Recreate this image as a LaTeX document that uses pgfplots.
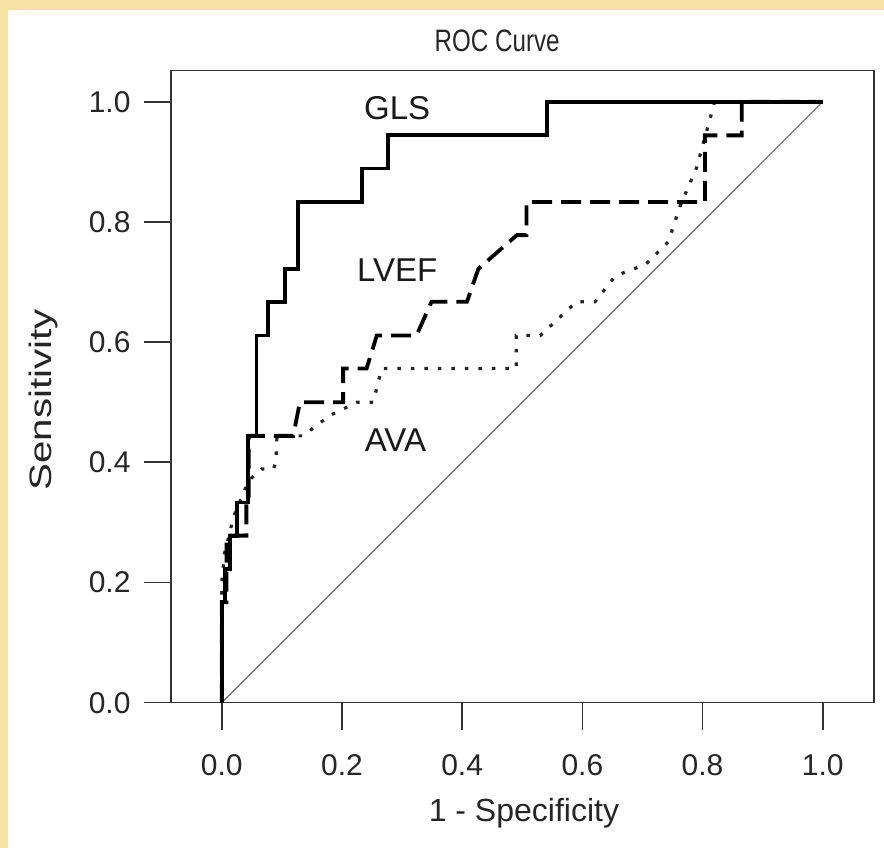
\documentclass[border=0pt]{standalone}
\usepackage{fontspec}
\setmainfont{Liberation Sans}
\newfontfamily\narrowfont[FakeStretch=0.78]{Liberation Sans}
\newfontfamily\widefont[FakeStretch=1.3]{Liberation Sans}
\usepackage{pgfplots}
\pgfplotsset{compat=1.18}
\definecolor{bgyellow}{RGB}{246,226,162}
\definecolor{diag}{RGB}{120,120,120}
\begin{document}
\begin{tikzpicture}[x=1pt,y=1pt]
\fill[bgyellow] (0,0) rectangle (884,848);
\fill[white] (8,0) rectangle (884,838);
\path[use as bounding box] (0,0) rectangle (884,848);
\begin{axis}[
  at={(171pt,145.3pt)}, anchor=south west,
  scale only axis, width=703pt, height=632pt,
  xmin=-0.0844, xmax=1.0852, ymin=0, ymax=1.0516,
  axis line style={draw=black!80, line width=1.6pt},
  xtick={0,0.2,0.4,0.6,0.8,1}, xticklabels={0.0,0.2,0.4,0.6,0.8,1.0},
  ytick={0,0.2,0.4,0.6,0.8,1}, yticklabels={0.0,0.2,0.4,0.6,0.8,1.0},
  xtick pos=bottom, ytick pos=left,
  tick align=outside, major tick length=27pt,
  tick style={draw=black!80, line width=1.6pt},
  /pgf/number format/assume math mode=true,
  ticklabel style={font=\fontsize{30}{33}\selectfont, text=black!85},
  xticklabel style={yshift=-21pt},
  yticklabel style={xshift=-10pt},
  xlabel={1 - Specificity},
  ylabel={Sensitivity},
  xlabel style={font=\fontsize{32}{35}\selectfont, text=black!85, at={(axis description cs:0.502,0)}, anchor=center, yshift=-111pt},
  ylabel style={font=\widefont\fontsize{31}{34}\selectfont, text=black!85, at={(axis description cs:-0.181,0.479)}, anchor=center},
  title={ROC Curve},
  title style={font=\narrowfont\fontsize{31}{34}\selectfont, text=black!85, at={(axis description cs:0.464,1)}, anchor=center, yshift=24pt},
  clip=false,
]
\addplot[diag, line width=1.4pt] coordinates {(0,0) (1,1)};
% AVA (dotted)
\addplot[black!85, line width=3.2pt, dash pattern=on 3.5pt off 10pt] coordinates {
(0,0) (0,0.2) (0.005,0.25) (0.02,0.31) (0.045,0.37) (0.067,0.389) (0.086,0.389)
(0.09,0.4) (0.092,0.444) (0.135,0.444) (0.18,0.478) (0.225,0.5) (0.252,0.5)
(0.266,0.556) (0.49,0.556) (0.49,0.611) (0.53,0.611) (0.59,0.667) (0.621,0.667)
(0.654,0.709) (0.679,0.72) (0.704,0.728) (0.743,0.767) (0.762,0.825) (0.79,0.89)
(0.815,0.981) (0.82,1) (1,1)};
% LVEF (dashed)
\addplot[black, line width=3.8pt, dash pattern=on 20pt off 9pt] coordinates {
(0,0) (0,0.167) (0.008,0.167) (0.008,0.278) (0.041,0.278) (0.041,0.333)
(0.045,0.333) (0.045,0.444) (0.119,0.444) (0.13,0.5) (0.202,0.5) (0.202,0.556)
(0.241,0.556) (0.258,0.611) (0.324,0.611) (0.349,0.667) (0.408,0.667)
(0.427,0.722) (0.491,0.778) (0.507,0.778) (0.507,0.833) (0.804,0.833)
(0.804,0.944) (0.865,0.944) (0.865,1) (1,1)};
% GLS (solid)
\addplot[black, line width=3.8pt] coordinates {
(0,0) (0,0.167) (0.006,0.167) (0.006,0.222) (0.014,0.222) (0.014,0.278)
(0.026,0.278) (0.026,0.333) (0.044,0.333) (0.044,0.444) (0.058,0.444)
(0.058,0.611) (0.0775,0.611) (0.0775,0.667) (0.105,0.667) (0.105,0.722)
(0.1275,0.722) (0.1275,0.833) (0.233,0.833) (0.233,0.889) (0.277,0.889)
(0.277,0.944) (0.541,0.944) (0.541,1) (1,1)};
\node[font=\fontsize{33}{36}\selectfont, text=black!90] at (axis cs:0.292,0.99) {GLS};
\node[font=\fontsize{33}{36}\selectfont, text=black!90] at (axis cs:0.292,0.72) {LVEF};
\node[font=\fontsize{33}{36}\selectfont, text=black!90] at (axis cs:0.289,0.437) {AVA};
\end{axis}
\end{tikzpicture}
\end{document}
